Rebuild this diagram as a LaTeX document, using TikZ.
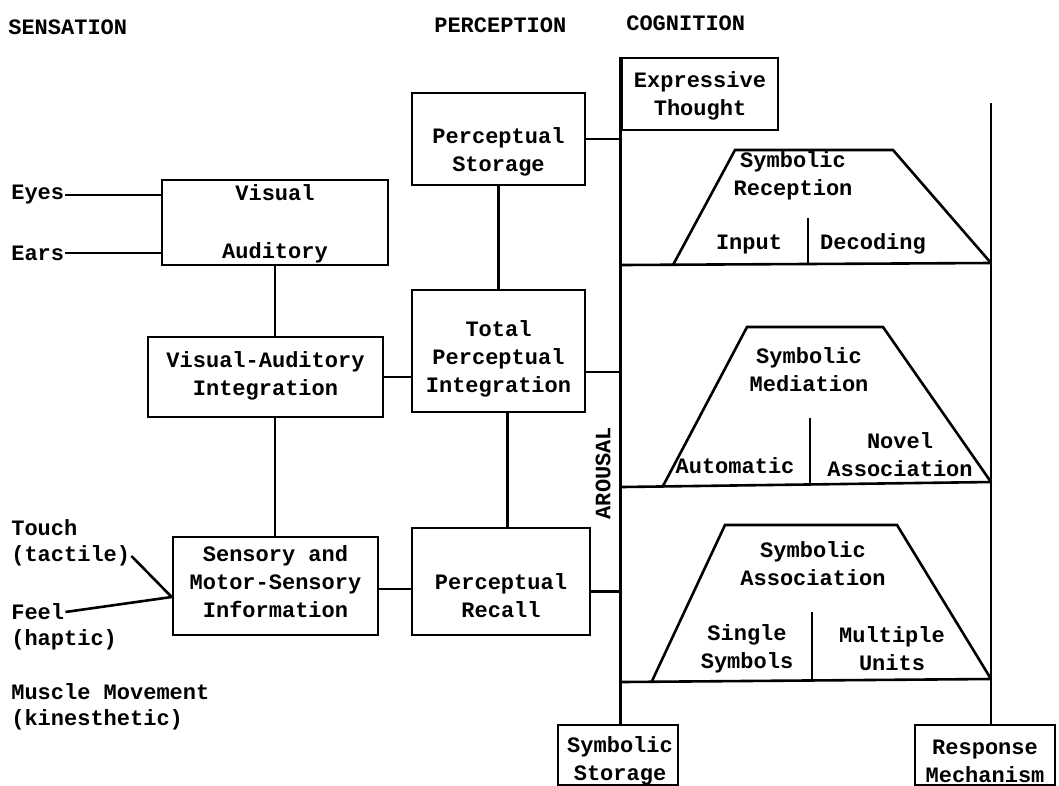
\documentclass[tikz,border=0pt]{standalone}
\usepackage{fontspec}
\setmainfont{Liberation Mono}
\usetikzlibrary{positioning}

\tikzset{
  box/.style={draw, line width=2.6pt, inner sep=0pt},
  txt/.style={align=center, inner sep=0pt},
  lbl/.style={anchor=west, inner sep=0pt},
  head/.style={anchor=west, inner sep=0pt},
}

\begin{document}
\begin{tikzpicture}[x=1pt,y=-1pt,line width=2.6pt,
    font=\fontsize{22}{28}\selectfont\bfseries]
  \useasboundingbox (0,0) rectangle (1059,785);

  % Column headings
  \node[head] (hsens) at (7,27) {SENSATION};
  \node[head] (hperc) at (433,25) {PERCEPTION};
  \node[head] (hcogn) at (625,23) {COGNITION};

  % Sensation column
  \node[box, minimum width=226pt, minimum height=85pt] (vis) at (275,222.5) {};
  \node[txt] (vist) at (275,224) {Visual\\[30pt]Auditory};
  \node[box, minimum width=235pt, minimum height=80pt] (vai) at (265.5,377) {};
  \node[txt] (vait) at (265.5,376) {Visual-Auditory\\Integration};
  \node[box, minimum width=205pt, minimum height=98pt] (sens) at (275.5,586) {};
  \node[txt] (senst) at (275.5,582) {Sensory and\\Motor-Sensory\\Information};

  \node[lbl] (eyes) at (10,195) {Eyes};
  \node[lbl] (ears) at (10,253) {Ears};
  \node[lbl] (touch) at (10,528) {Touch};
  \node[lbl] (tactile) at (10,556) {(tactile)};
  \node[lbl] (feel) at (10,612) {Feel};
  \node[lbl] (haptic) at (10,640) {(haptic)};
  \node[lbl] (muscle) at (10,692) {Muscle Movement};
  \node[lbl] (kines) at (10,720) {(kinesthetic)};

  % Perception column
  \node[box, minimum width=173pt, minimum height=92pt] (pstore) at (498.5,139) {};
  \node[txt] (pstoret) at (498.5,152) {Perceptual\\Storage};
  \node[box, minimum width=173pt, minimum height=122pt] (tpi) at (498.5,351) {};
  \node[txt] (tpit) at (498.5,359) {Total\\Perceptual\\Integration};
  \node[box, minimum width=178pt, minimum height=107pt] (prec) at (501,581.5) {};
  \node[txt] (prect) at (501,596) {Perceptual\\Recall};

  % Cognition column
  \node[box, minimum width=156pt, minimum height=72pt] (expr) at (700,94) {};
  \node[txt] (exprt) at (700,96) {Expressive\\Thought};
  \node[box, minimum width=120pt, minimum height=60pt] (symst) at (618,755) {};
  \node[txt] (symstt) at (620,761) {Symbolic\\Storage};
  \node[box, minimum width=140pt, minimum height=60pt] (resp) at (985,755) {};
  \node[txt] (respt) at (985,761) {Response\\Mechanism};
  \node[rotate=90, inner sep=0pt] (arousal) at (603,473) {AROUSAL};

  \coordinate (rtop) at (991,103);

  % Arousal line and response line
  \draw (expr.north west) -- (expr.north west |- symst.north);
  \draw (rtop) -- (rtop |- resp.north);

  % Bands between the two lines
  \draw (622,265) -- (991,263);
  \draw (622,487) -- (991,482);
  \draw (622,682) -- (991,679);

  % Symbolic Reception
  \draw (673,265) -- (735,150) -- (893,150) -- (991,263);
  \draw (808,218) -- (808,264);
  \node[txt] (srec) at (793,176) {Symbolic\\Reception};
  \node[txt] (input) at (749,244) {Input};
  \node[txt] (decod) at (873,244) {Decoding};

  % Symbolic Mediation
  \draw (663,486) -- (747,327) -- (883,327) -- (991,482);
  \draw (810,418) -- (810,484);
  \node[txt] (smed) at (809,370) {Symbolic\\Mediation};
  \node[txt] (autom) at (735,466) {Automatic};
  \node[txt] (novel) at (900,455) {Novel\\Association};

  % Symbolic Association
  \draw (652,681) -- (725,525) -- (897,525) -- (991,679);
  \draw (812,612) -- (812,680);
  \node[txt] (sass) at (813,564) {Symbolic\\Association};
  \node[txt] (single) at (747,649) {Single\\Symbols};
  \node[txt] (multi) at (892,649) {Multiple\\Units};

  % Connections
  \draw (eyes.east) -- (eyes.east -| vis.west);
  \draw (ears.east) -- (ears.east -| vis.west);
  \draw (vis.south) -- (vis.south |- vai.north);
  \draw (vai.south -| vis.south) -- (vis.south |- sens.north);
  \draw (vai.east) -- (vai.east -| tpi.west);
  \draw ([yshift=-3pt]sens.east) -- ([yshift=-3pt]sens.east -| prec.west);
  \coordinate (sensin) at ([yshift=-11pt]sens.west);
  \draw (tactile.east) -- (sensin);
  \draw (feel.east) -- (sensin);
  \draw (pstore.south) -- (pstore.south |- tpi.north);
  \draw ([xshift=9pt]tpi.south) -- ([xshift=9pt]tpi.south |- prec.north);
  \draw (pstore.east) -- (pstore.east -| expr.west);
  \draw ([yshift=-21pt]tpi.east) -- ([yshift=-21pt]tpi.east -| expr.west);
  \draw ([yshift=-10pt]prec.east) -- ([yshift=-10pt]prec.east -| expr.west);

\end{tikzpicture}
\end{document}
